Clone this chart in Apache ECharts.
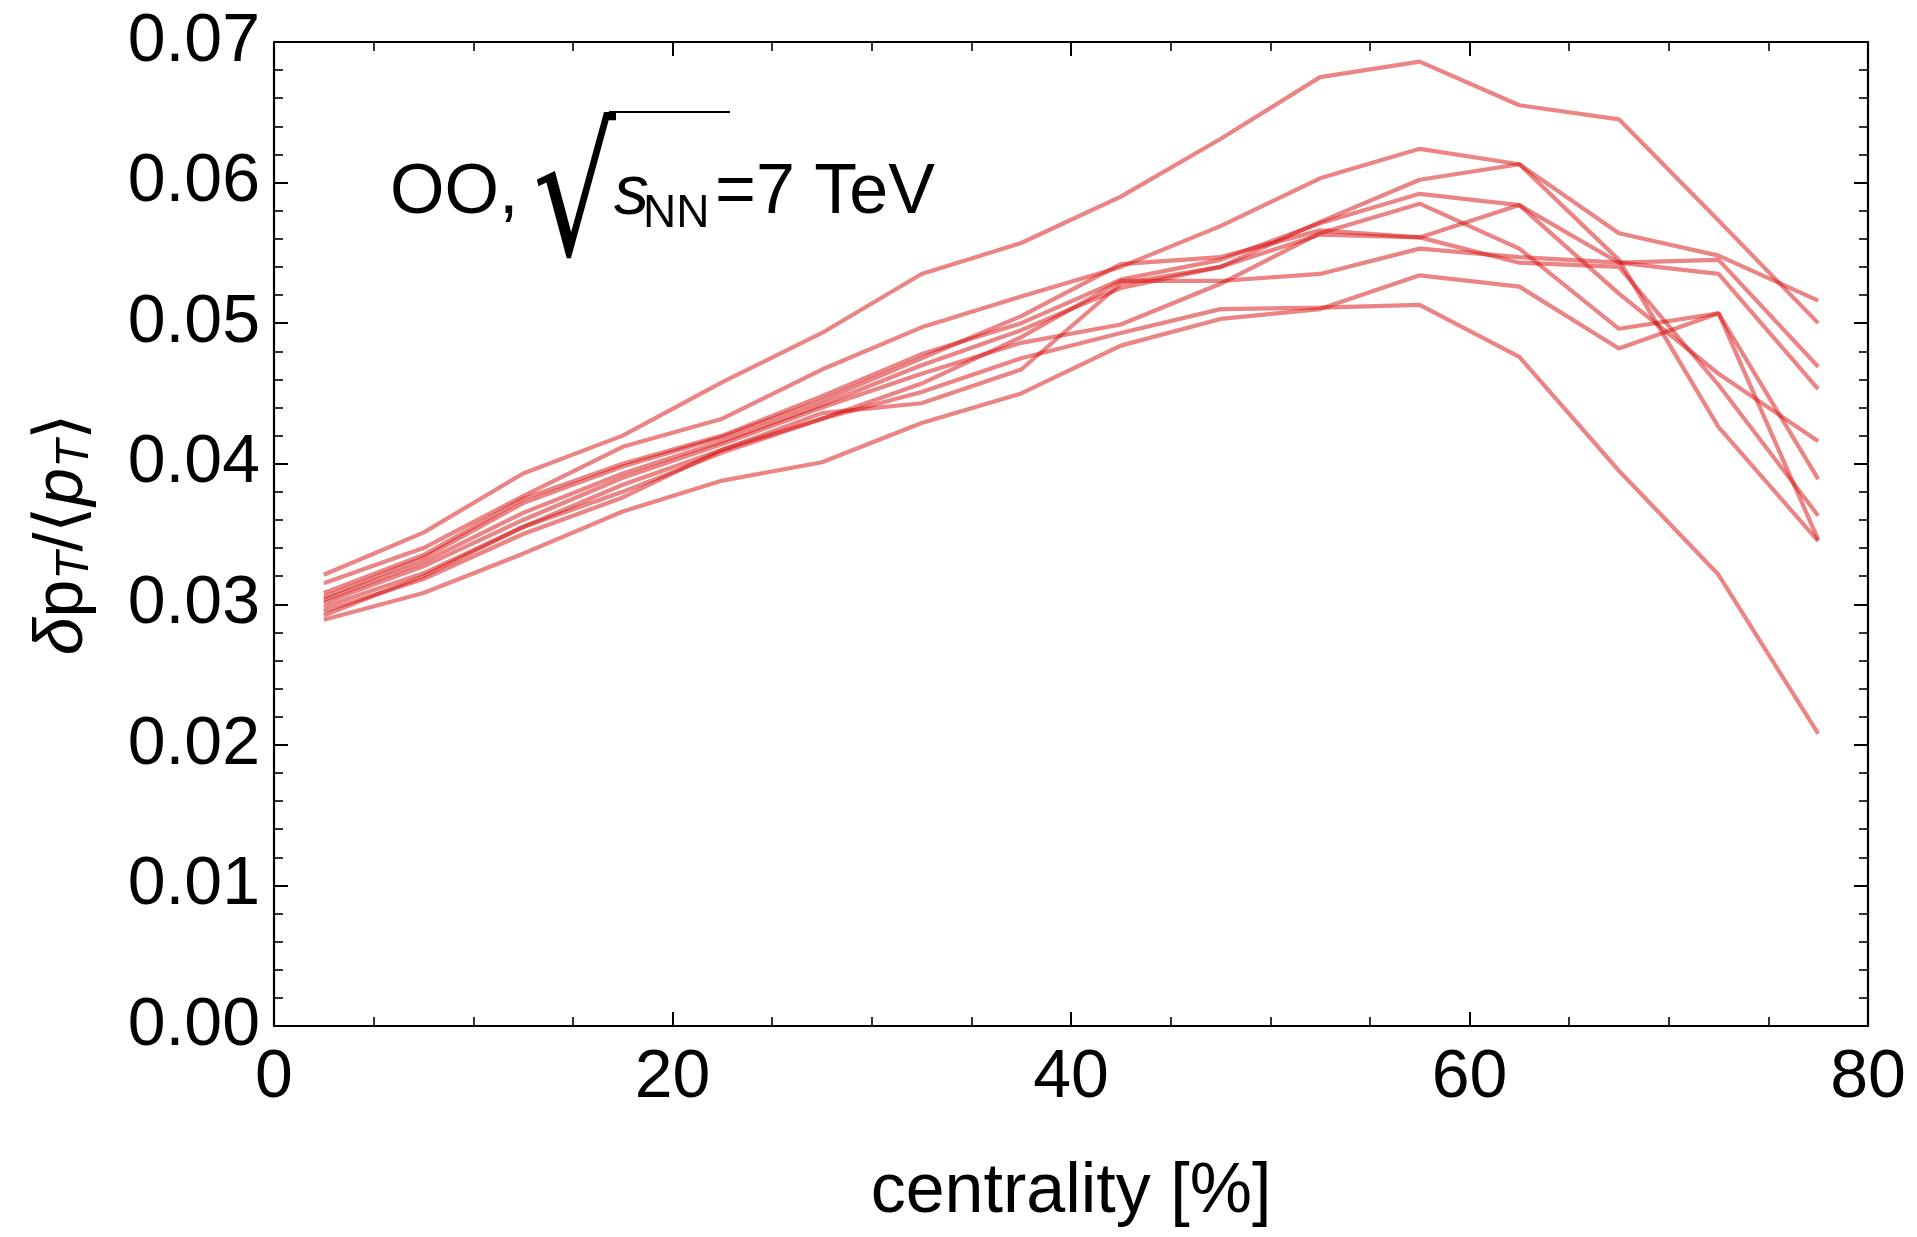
<!DOCTYPE html>
<html><head><meta charset="utf-8">
<script src="https://cdn.jsdelivr.net/npm/echarts@6/dist/echarts.min.js"></script>
<style>html,body{margin:0;padding:0;background:#fff}#c{width:1917px;height:1237px}</style>
</head><body><div id="c"></div>
<script>
// centrality bin centres [%]
const centrality = [2.5,7.5,12.5,17.5,22.5,27.5,32.5,37.5,42.5,47.5,52.5,57.5,62.5,67.5,72.5,77.5];
// delta pT / <pT> for each of the 10 curves
const runA  = [0.0321,0.0351,0.0393,0.0420,0.0458,0.0493,0.0535,0.0557,0.0590,0.0631,0.0675,0.0686,0.0655,0.0645,0.0573,0.0500];
const runB  = [0.0315,0.0340,0.0377,0.0412,0.0432,0.0467,0.0497,0.0519,0.0540,0.0569,0.0603,0.0624,0.0613,0.0564,0.0548,0.0516];
const runC  = [0.0295,0.0318,0.0350,0.0376,0.0410,0.0436,0.0443,0.0467,0.0528,0.0540,0.0572,0.0602,0.0613,0.0545,0.0426,0.0345];
const runD  = [0.0308,0.0335,0.0375,0.0400,0.0420,0.0448,0.0478,0.0500,0.0531,0.0545,0.0571,0.0592,0.0584,0.0543,0.0545,0.0469];
const runE  = [0.0301,0.0327,0.0360,0.0390,0.0414,0.0440,0.0464,0.0486,0.0499,0.0528,0.0564,0.0585,0.0553,0.0496,0.0507,0.0389];
const runF  = [0.0305,0.0333,0.0372,0.0398,0.0419,0.0445,0.0475,0.0505,0.0542,0.0547,0.0566,0.0561,0.0584,0.0521,0.0464,0.0416];
const runG  = [0.0303,0.0330,0.0365,0.0393,0.0416,0.0442,0.0470,0.0495,0.0525,0.0540,0.0563,0.0561,0.0543,0.0540,0.0456,0.0363];
const runH  = [0.0292,0.0320,0.0355,0.0385,0.0410,0.0432,0.0457,0.0490,0.0530,0.0530,0.0535,0.0553,0.0547,0.0543,0.0535,0.0453];
const runI  = [0.0289,0.0308,0.0336,0.0366,0.0388,0.0401,0.0429,0.0450,0.0484,0.0503,0.0510,0.0534,0.0526,0.0482,0.0507,0.0346];
const runJ  = [0.0298,0.0322,0.0355,0.0380,0.0408,0.0432,0.0451,0.0475,0.0493,0.0510,0.0511,0.0513,0.0476,0.0395,0.0321,0.0208];
const runs = [runA,runB,runC,runD,runE,runF,runG,runH,runI,runJ];
// axis tick values
const xTicks = [0,20,40,60,80];
const yTicks = [0.00,0.01,0.02,0.03,0.04,0.05,0.06,0.07];

const FONT = 'Liberation Sans';
const chart = echarts.init(document.getElementById('c'), null, {renderer:'canvas'});
const axisCommon = () => ({
  axisLine:{show:true, onZero:false, lineStyle:{color:'#000', width:2.2}},
  axisTick:{show:true, inside:true, length:14, lineStyle:{color:'#000', width:2}},
  splitLine:{show:false}, minorSplitLine:{show:false}
});
const xBase = {type:'value', min:xTicks[0], max:xTicks[xTicks.length-1], interval:xTicks[1]-xTicks[0]};
const yBase = {type:'value', min:yTicks[0], max:yTicks[yTicks.length-1], interval:0.01};

chart.setOption({
  animation:false,
  backgroundColor:'#fff',
  grid:{left:274, top:42, width:1594, height:984, outerBoundsMode:'none'},
  xAxis:[
    Object.assign({}, xBase, axisCommon(), {position:'bottom',
      minorTick:{show:true, splitNumber:4, length:9, lineStyle:{color:'#000', width:1.6}},
      axisLabel:{fontSize:68, color:'#000', fontFamily:FONT, margin:18},
      name:'centrality [%]', nameLocation:'middle', nameGap:132,
      nameTextStyle:{fontSize:70, color:'#000', fontFamily:FONT}}),
    Object.assign({}, xBase, axisCommon(), {position:'top',
      minorTick:{show:true, splitNumber:4, length:9, lineStyle:{color:'#000', width:1.6}},
      axisLabel:{show:false}})
  ],
  yAxis:[
    Object.assign({}, yBase, axisCommon(), {position:'left',
      minorTick:{show:true, splitNumber:5, length:9, lineStyle:{color:'#000', width:1.6}},
      axisLabel:{fontSize:68, color:'#000', fontFamily:FONT, margin:14, formatter:(v)=>v.toFixed(2)},
      name:'{n|δ}{u|p}{s|T}{u|/⟨}{i|p}{s|T}{u|⟩}', nameLocation:'middle', nameRotate:90, nameGap:176,
      nameTextStyle:{color:'#000', fontFamily:FONT, fontSize:68,
        rich:{
          n:{fontSize:68, fontStyle:'italic', fontFamily:FONT, color:'#000', lineHeight:70},
          u:{fontSize:68, fontFamily:FONT, color:'#000', lineHeight:70},
          i:{fontSize:68, fontStyle:'italic', fontFamily:FONT, color:'#000', lineHeight:70},
          s:{fontSize:46, fontStyle:'italic', fontFamily:FONT, color:'#000', lineHeight:30, verticalAlign:'bottom'}
        }}}),
    Object.assign({}, yBase, axisCommon(), {position:'right',
      minorTick:{show:true, splitNumber:5, length:9, lineStyle:{color:'#000', width:1.6}},
      axisLabel:{show:false}})
  ],
  graphic:[
    {type:'text', x:390, y:194, style:{text:'OO,', font:'70px "Liberation Sans"', fill:'#000', textAlign:'left', textVerticalAlign:'middle'}},
    {type:'text', x:533, y:121, scaleX:0.74, style:{text:'√', font:'176px "DejaVu Sans"', fill:'#000', textAlign:'left', textVerticalAlign:'top'}},
    {type:'line', shape:{x1:609, y1:112, x2:730, y2:112}, style:{stroke:'#000', lineWidth:2}},
    {type:'text', x:614, y:195, style:{text:'s', font:'italic 70px "Liberation Sans"', fill:'#000', textAlign:'left', textVerticalAlign:'middle'}},
    {type:'text', x:643, y:214, style:{text:'NN', font:'46px "Liberation Sans"', fill:'#000', textAlign:'left', textVerticalAlign:'middle'}},
    {type:'text', x:715, y:194, style:{text:'=7 TeV', font:'70px "Liberation Sans"', fill:'#000', textAlign:'left', textVerticalAlign:'middle'}}
  ],
  series: runs.map((r, k) => ({
    name:'run'+(k+1), type:'line', xAxisIndex:0, yAxisIndex:0,
    data: centrality.map((c, i) => [c, r[i]]),
    symbol:'none', smooth:false, clip:true,
    lineStyle:{color:'rgb(215,12,12)', opacity:0.5, width:4.2},
    emphasis:{disabled:true}
  }))
});
</script></body></html>
